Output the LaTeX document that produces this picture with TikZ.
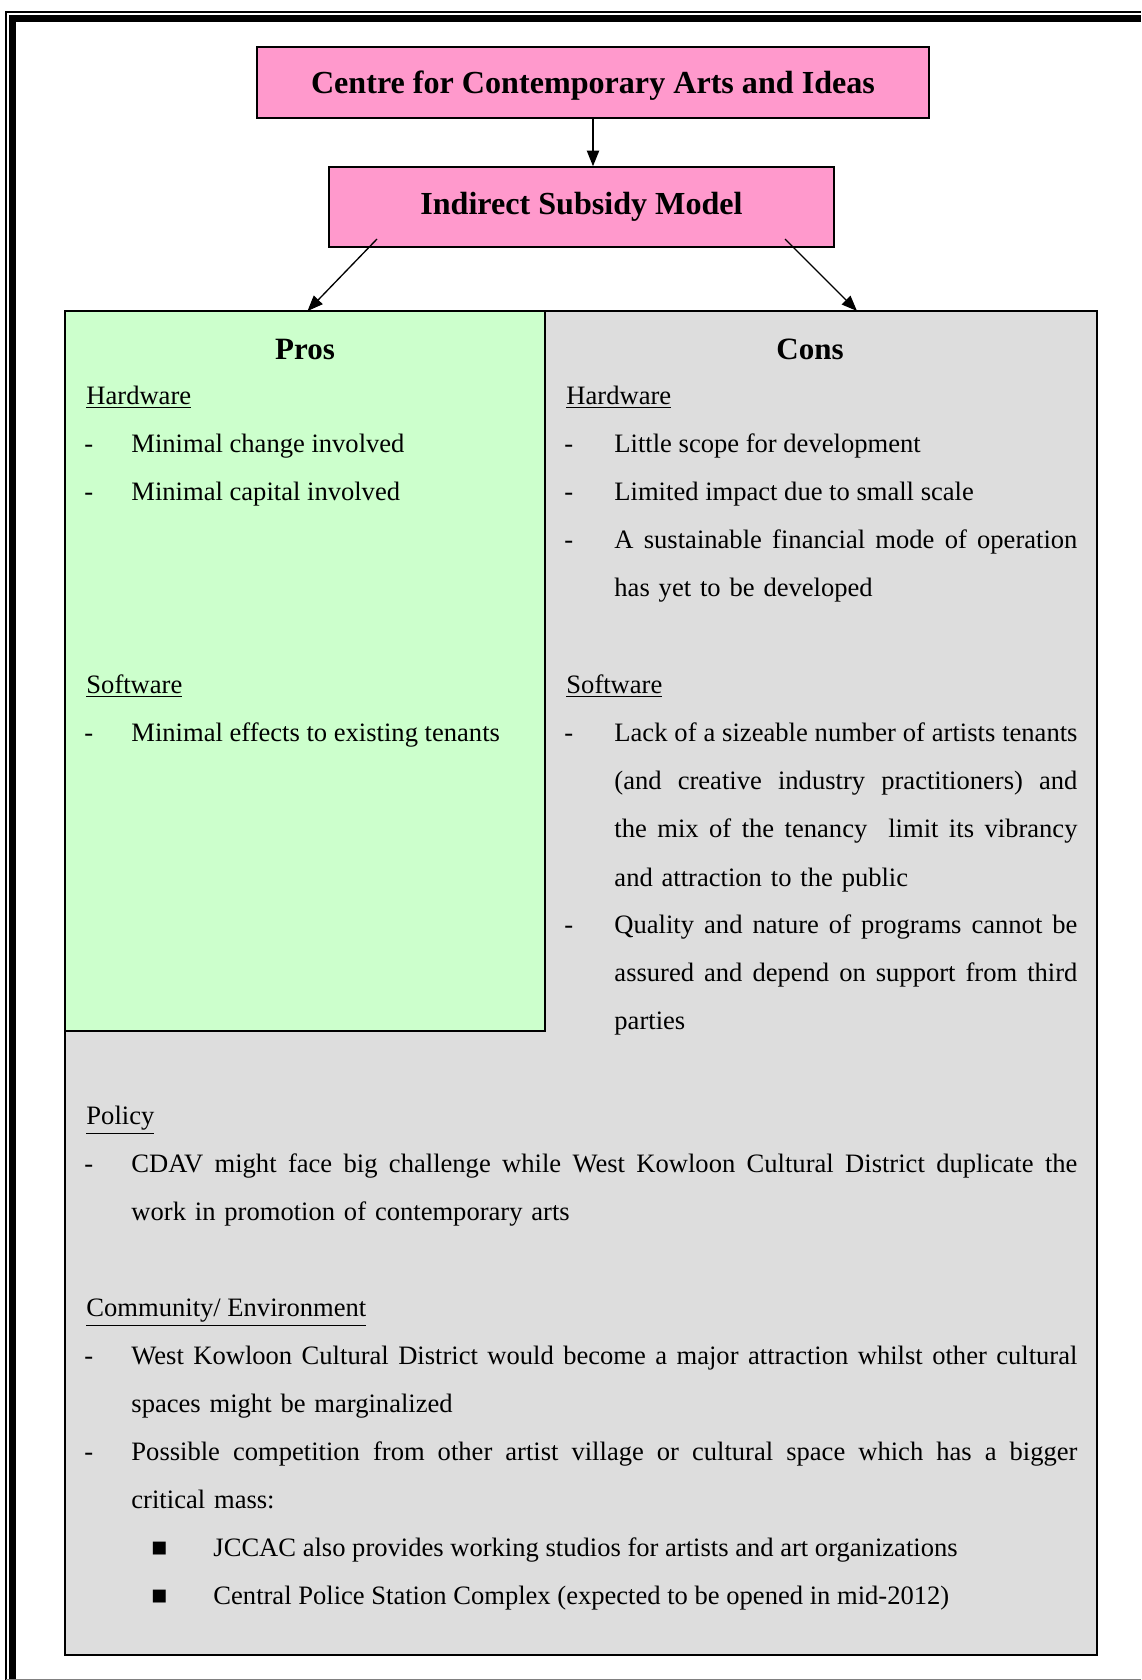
\documentclass[tikz,border=0pt]{standalone}
\usepackage{fontspec}
\setmainfont{Liberation Serif}
\usetikzlibrary{arrows.meta}
\definecolor{rosebg}{HTML}{FF99CC}
\definecolor{prosbg}{HTML}{CCFFCC}
\definecolor{consbg}{HTML}{DDDDDD}
\newcommand{\pxu}{0.4516pt}
\newcommand{\bodyfont}{\fontsize{12pt}{21.77pt}\selectfont}
\newcommand{\headfont}{\fontsize{14pt}{17pt}\selectfont\bfseries}
\newcommand{\titlefont}{\fontsize{14.5pt}{17pt}\selectfont\bfseries}
% one justified line of a paragraph
\newcommand{\jline}[2][209.1pt]{\makebox[#1][s]{\spaceskip=0.25em plus 2em minus 0.1em #2}}

\begin{document}
\begin{tikzpicture}[x=\pxu, y=-\pxu,
    title/.style={draw=black, line width=0.7pt, fill=rosebg, font=\titlefont, inner sep=0pt},
    panel/.style={draw=black, line width=0.8pt, inner sep=0pt},
    head/.style={anchor=base, font=\headfont, inner sep=0pt},
    topic/.style={anchor=base west, font=\bodyfont, inner sep=0pt},
    item/.style={anchor=base west, font=\bodyfont, inner sep=0pt, align=left},
    dashmark/.style={anchor=base west, font=\bodyfont, inner sep=0pt},
    arrow/.style={-{Triangle[length=7pt,width=5.5pt]}, line width=0.6pt},
]
\useasboundingbox (0,0) rectangle (1141,1680);

% page frame
\draw[line width=0.7pt] (6,1680) -- (6,12) -- (1141,12);
\draw[line width=3.2pt] (12.5,1680) -- (12.5,18.5) -- (1141,18.5);
\draw[line width=0.5pt, gray] (6,1679.3) -- (1141,1679.3);

% title boxes
\node[title, text depth=0pt, minimum width=672*\pxu, minimum height=71*\pxu] (ccai) at (593,82.5) {Centre for Contemporary Arts and Ideas};
\node[title, minimum width=505*\pxu, minimum height=80*\pxu] (ism) at (581.5,207) {Indirect Subsidy Model};

% panels
\node[panel, fill=consbg, minimum width=1032*\pxu, minimum height=1344*\pxu] (cons) at (581,983) {};
\node[panel, fill=prosbg, minimum width=480*\pxu, minimum height=720*\pxu] (pros) at (305,671) {};

\coordinate (lfrom) at (377,239);
\coordinate (lto) at (307.5,311);
\coordinate (rfrom) at (785,239);
\coordinate (rto) at (857,311);

\draw[arrow] (ccai.south) -- (ccai.south |- ism.north);
\draw[arrow] (lfrom) -- (lto);
\draw[arrow] (rfrom) -- (rto);

\node[head] (proshead) at (305,359) {Pros};
\node[head] (conshead) at (810,359) {Cons};

% pros
\node[topic] (hwpros) at (86,404) {\underline{Hardware}};
\node[item] (change) at (131,452.2) {Minimal change involved};
\node[item] (capital) at (131,500.4) {Minimal capital involved};
\node[topic] (swpros) at (86,693.2) {\underline{Software}};
\node[item] (effects) at (131,741.4) {Minimal effects to existing tenants};
\foreach \y [count=\i] in {452.2,500.4,741.4}
  \node[dashmark] (dp\i) at (84,\y) {-};

% cons
\node[topic] (hwcons) at (566,404) {\underline{Hardware}};
\node[item] (scope) at (614,452.2) {Little scope for development};
\node[item] (impact) at (614,500.4) {Limited impact due to small scale};
\node[item, text width=209.1pt] (finance) at (614,548.6) {\jline{A sustainable financial mode of operation}\\has yet to be developed};
\node[topic] (swcons) at (566,693.2) {\underline{Software}};
\node[item, text width=209.1pt] (lack) at (614,741.4) {\jline{Lack of a sizeable number of artists tenants}\\
  \jline{(and creative industry practitioners) and}\\
  \jline{the mix of the tenancy\ \ limit its vibrancy}\\
  and attraction to the public};
\node[item, text width=209.1pt] (quality) at (614,933.5) {\jline{Quality and nature of programs cannot be}\\
  \jline{assured and depend on support from third}\\
  parties};
\foreach \y [count=\i] in {452.2,500.4,548.6,741.4,933.5}
  \node[dashmark] (dc\i) at (564,\y) {-};

% policy and community
\node[topic] (policy) at (86,1124.5) {\underline{Policy}};
\node[item, text width=427.2pt] (cdav) at (131,1172.5) {\jline[427.2pt]{CDAV might face big challenge while West Kowloon Cultural District duplicate the}\\
  work in promotion of contemporary arts};
\node[topic] (community) at (86,1316.5) {\underline{Community/ Environment}};
\node[item, text width=427.2pt] (wkcd) at (131,1364.5) {\jline[427.2pt]{West Kowloon Cultural District would become a major attraction whilst other cultural}\\
  spaces might be marginalized};
\node[item, text width=427.2pt] (compete) at (131,1460.5) {\jline[427.2pt]{Possible competition from other artist village or cultural space which has a bigger}\\
  critical mass:};
\foreach \y [count=\i] in {1172.5,1364.5,1460.5}
  \node[dashmark] (db\i) at (84,\y) {-};
\node[dashmark] (sq1) at (151,1556.5) {■};
\node[dashmark] (sq2) at (151,1604.5) {■};
\node[item] (jccac) at (213,1556.5) {JCCAC also provides working studios for artists and art organizations};
\node[item] (cps) at (213,1604.5) {Central Police Station Complex (expected to be opened in mid-2012)};
\end{tikzpicture}
\end{document}
